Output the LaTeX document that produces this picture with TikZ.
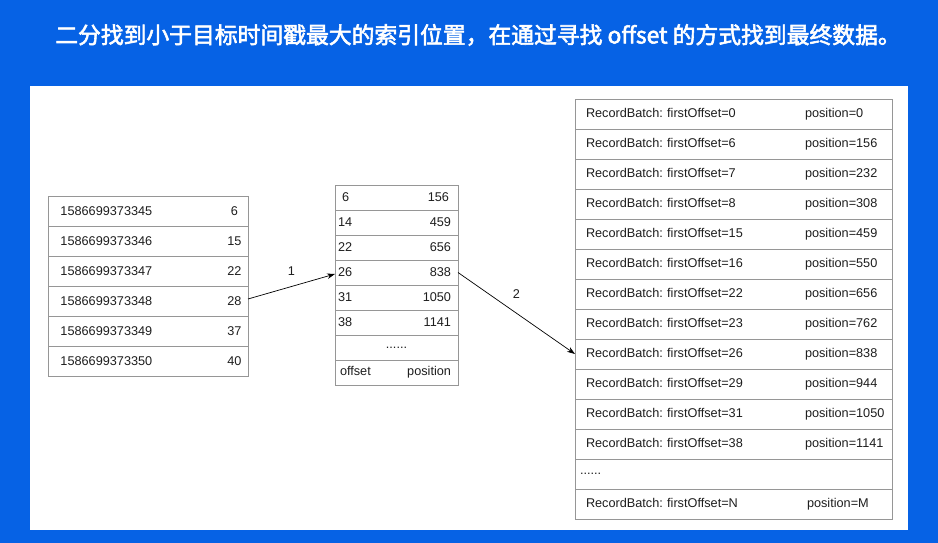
\documentclass[tikz,border=0pt]{standalone}
\usepackage{xcolor}
\usepackage{fontspec}
\setmainfont{Liberation Sans}
\newfontfamily\cjk[FakeBold=2.5]{Noto Sans CJK SC}
\usepackage{tikz}
\usetikzlibrary{positioning, arrows.meta}
\frenchspacing

\definecolor{bgblue}{RGB}{6,98,229}
\definecolor{linegray}{RGB}{150,150,150}
\definecolor{txtgray}{RGB}{30,30,30}

\begin{document}
\begin{tikzpicture}[
    x=1pt, y=1pt,
    every node/.style={font=\fontsize{12.7}{15}\selectfont, text=txtgray},
    tsrow/.style={rectangle, draw=linegray, line width=0.8pt, minimum height=30pt, inner sep=0pt, outer sep=0pt, text width=200pt, align=left},
    idxrow/.style={rectangle, draw=linegray, line width=0.8pt, minimum height=25pt, inner sep=0pt, outer sep=0pt, text width=123pt, align=left},
    rbrow/.style={rectangle, draw=linegray, line width=0.8pt, minimum height=30pt, inner sep=0pt, outer sep=0pt, text width=317pt, align=left},
    arr/.style={-{Stealth[length=8pt, width=5.5pt]}, line width=0.7pt, black}
]
% background and panel
\fill[bgblue] (0,0) rectangle (938,-543);
\fill[white] (30,-86) rectangle (908,-530);
\node[font=\cjk\fontsize{22.8}{27}\selectfont, text=white] (title) at (478,-35) {二分找到小于目标时间戳最大的索引位置，在通过寻找 offset 的方式找到最终数据。};

% timestamp index
\node[tsrow, anchor=north west] (ts1) at (48,-196) {\hspace*{12.5pt}\makebox[166pt][l]{1586699373345}\makebox[16pt]{6}};
\node[tsrow, below=0pt of ts1] (ts2) {\hspace*{12.5pt}\makebox[166pt][l]{1586699373346}\makebox[16pt]{15}};
\node[tsrow, below=0pt of ts2] (ts3) {\hspace*{12.5pt}\makebox[166pt][l]{1586699373347}\makebox[16pt]{22}};
\node[tsrow, below=0pt of ts3] (ts4) {\hspace*{12.5pt}\makebox[166pt][l]{1586699373348}\makebox[16pt]{28}};
\node[tsrow, below=0pt of ts4] (ts5) {\hspace*{12.5pt}\makebox[166pt][l]{1586699373349}\makebox[16pt]{37}};
\node[tsrow, below=0pt of ts5] (ts6) {\hspace*{12.5pt}\makebox[166pt][l]{1586699373350}\makebox[16pt]{40}};

% offset index
\node[idxrow, anchor=north west] (idx1) at (335,-185) {\hspace*{7pt}6\hfill 156\hspace*{9pt}};
\node[idxrow, below=0pt of idx1] (idx2) {\hspace*{3pt}14\hfill 459\hspace*{7pt}};
\node[idxrow, below=0pt of idx2] (idx3) {\hspace*{3pt}22\hfill 656\hspace*{7pt}};
\node[idxrow, below=0pt of idx3] (idx4) {\hspace*{3pt}26\hfill 838\hspace*{7pt}};
\node[idxrow, below=0pt of idx4] (idx5) {\hspace*{3pt}31\hfill 1050\hspace*{7pt}};
\node[idxrow, below=0pt of idx5] (idx6) {\hspace*{3pt}38\hfill 1141\hspace*{7pt}};
\node[idxrow, below=0pt of idx6, align=center] (idx7) {......};
\node[idxrow, below=0pt of idx7] (idx8) {\hspace*{5pt}offset\hfill position\hspace*{7pt}};

% log segment
\node[rbrow, anchor=north west] (rb1) at (575,-99) {\hspace*{11pt}\makebox[219pt][l]{RecordBatch: firstOffset=0}position=0};
\node[rbrow, below=0pt of rb1] (rb2) {\hspace*{11pt}\makebox[219pt][l]{RecordBatch: firstOffset=6}position=156};
\node[rbrow, below=0pt of rb2] (rb3) {\hspace*{11pt}\makebox[219pt][l]{RecordBatch: firstOffset=7}position=232};
\node[rbrow, below=0pt of rb3] (rb4) {\hspace*{11pt}\makebox[219pt][l]{RecordBatch: firstOffset=8}position=308};
\node[rbrow, below=0pt of rb4] (rb5) {\hspace*{11pt}\makebox[219pt][l]{RecordBatch: firstOffset=15}position=459};
\node[rbrow, below=0pt of rb5] (rb6) {\hspace*{11pt}\makebox[219pt][l]{RecordBatch: firstOffset=16}position=550};
\node[rbrow, below=0pt of rb6] (rb7) {\hspace*{11pt}\makebox[219pt][l]{RecordBatch: firstOffset=22}position=656};
\node[rbrow, below=0pt of rb7] (rb8) {\hspace*{11pt}\makebox[219pt][l]{RecordBatch: firstOffset=23}position=762};
\node[rbrow, below=0pt of rb8] (rb9) {\hspace*{11pt}\makebox[219pt][l]{RecordBatch: firstOffset=26}position=838};
\node[rbrow, below=0pt of rb9] (rb10) {\hspace*{11pt}\makebox[219pt][l]{RecordBatch: firstOffset=29}position=944};
\node[rbrow, below=0pt of rb10] (rb11) {\hspace*{11pt}\makebox[219pt][l]{RecordBatch: firstOffset=31}position=1050};
\node[rbrow, below=0pt of rb11] (rb12) {\hspace*{11pt}\makebox[219pt][l]{RecordBatch: firstOffset=38}position=1141};
\node[rbrow, below=0pt of rb12] (rb13) {\hspace*{5pt}......};
\node[rbrow, below=0pt of rb13] (rb14) {\hspace*{11pt}\makebox[221pt][l]{RecordBatch: firstOffset=N}position=M};

\draw[arr] ([yshift=2pt]ts4.east) -- node[midway, above=7pt] {1} ([yshift=-1.5pt]idx4.west);
\draw[arr] (idx4.east) -- node[midway, above=11pt] {2} (rb9.west);
\end{tikzpicture}
\end{document}
